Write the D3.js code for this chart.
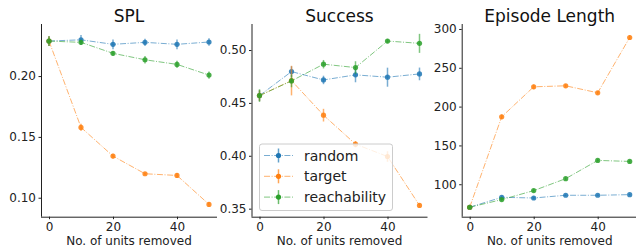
<!DOCTYPE html>
<html><head><meta charset="utf-8">
<script src="https://cdn.jsdelivr.net/npm/d3@7"></script>
<style>body{margin:0;background:#fff}svg{display:block;font-family:"DejaVu Sans",sans-serif}</style>
</head><body><svg id="c" width="636" height="247"></svg>
<script>
const unitsRemoved = [0, 10, 20, 30, 40, 50];
const seriesNames = ["random", "target", "reachability"];
const seriesColors = ["#1f77b4", "#ff7f0e", "#2ca02c"];
const panelTitles = ["SPL", "Success", "Episode Length"];

const splRandom = [0.2288, 0.2298, 0.2261, 0.2277, 0.2261, 0.2280];
const splTarget = [0.2288, 0.1578, 0.1342, 0.1197, 0.1183, 0.0945];
const splReach  = [0.2288, 0.2277, 0.2187, 0.2134, 0.2096, 0.2008];
const splRandomErr = [0.004, 0.004, 0.004, 0.003, 0.004, 0.003];
const splTargetErr = [0.004, 0.003, 0.002, 0.001, 0.002, 0.002];
const splReachErr  = [0.004, 0.002, 0.002, 0.003, 0.003, 0.003];

const succRandom = [0.4569, 0.4796, 0.4717, 0.4765, 0.4743, 0.4774];
const succTarget = [0.4569, 0.4711, 0.4384, 0.4110, 0.3993, 0.3531];
const succReach  = [0.4569, 0.4708, 0.4866, 0.4834, 0.5085, 0.5063];
const succRandomErr = [0.005, 0.005, 0.004, 0.007, 0.009, 0.006];
const succTargetErr = [0.005, 0.014, 0.006, 0.003, 0.005, 0.002];
const succReachErr  = [0.006, 0.006, 0.004, 0.006, 0.002, 0.009];

const lenRandom = [70.4, 83.2, 82.3, 85.8, 85.8, 86.6];
const lenTarget = [70.4, 186.9, 225.5, 226.8, 217.8, 289.0];
const lenReach  = [70.4, 80.2, 91.8, 107.2, 130.7, 129.4];
const lenRandomErr = [2, 2, 2, 1, 1, 1];
const lenTargetErr = [2, 3, 3, 2, 2, 3];
const lenReachErr  = [2, 2, 2, 2, 2, 2];

const splTicks = [0.10, 0.15, 0.20];
const succTicks = [0.35, 0.40, 0.45, 0.50];
const lenTicks = [100, 150, 200, 250, 300];
const xTicks = [0, 20, 40];

const panels = [
  {title: panelTitles[0], series: [splRandom, splTarget, splReach], errs: [splRandomErr, splTargetErr, splReachErr],
   domain: [0.0844, 0.2428], ticks: splTicks, fmt: d3.format(".2f"), left: 41},
  {title: panelTitles[1], series: [succRandom, succTarget, succReach], errs: [succRandomErr, succTargetErr, succReachErr],
   domain: [0.3424, 0.5246], ticks: succTicks, fmt: d3.format(".2f"), left: 251.5, legend: true},
  {title: panelTitles[2], series: [lenRandom, lenTarget, lenReach], errs: [lenRandomErr, lenTargetErr, lenReachErr],
   domain: [58.2, 306.4], ticks: lenTicks, fmt: d3.format("d"), left: 461.7}
];

const svg = d3.select("#c");
const plotTop = 24, plotBottom = 216.7, W = 176;

panels.forEach(p => {
  const x = d3.scaleLinear().domain([-2.5, 52.5]).range([p.left, p.left + W]);
  const y = d3.scaleLinear().domain(p.domain).range([plotBottom, plotTop]);
  const g = svg.append("g");

  p.series.forEach((vals, si) => {
    const col = seriesColors[si];
    const errs = p.errs[si];
    const sg = g.append("g");
    sg.append("path")
      .datum(unitsRemoved.map((u, i) => [u, vals[i]]))
      .attr("d", d3.line().x(d => x(d[0])).y(d => y(d[1])))
      .attr("fill", "none").attr("stroke", col).attr("stroke-width", 1)
      .attr("stroke-opacity", 0.6).attr("stroke-dasharray", "6,1.6,1,1.6");
    sg.selectAll("line.err").data(unitsRemoved).join("line")
      .attr("x1", d => x(d)).attr("x2", d => x(d))
      .attr("y1", (d, i) => y(vals[i] - errs[i])).attr("y2", (d, i) => y(vals[i] + errs[i]))
      .attr("stroke", col).attr("stroke-width", 1.5).attr("stroke-opacity", 0.6);
    sg.selectAll("circle").data(unitsRemoved).join("circle")
      .attr("cx", d => x(d)).attr("cy", (d, i) => y(vals[i])).attr("r", 2.6)
      .attr("fill", col).attr("fill-opacity", 0.85);
  });

  const xa = g.append("g").attr("transform", `translate(0,${plotBottom})`)
    .call(d3.axisBottom(x).tickValues(xTicks).tickSize(2.5).tickPadding(3).tickSizeOuter(0));
  xa.select(".domain").attr("d", `M${p.left},0.5H${p.left + W}`);
  const ya = g.append("g").attr("transform", `translate(${p.left},0)`)
    .call(d3.axisLeft(y).tickValues(p.ticks).tickFormat(p.fmt).tickSize(2.5).tickPadding(2.5).tickSizeOuter(0));
  ya.select(".domain").attr("d", `M0.5,${plotTop}V${plotBottom}`);
  [xa, ya].forEach(a => {
    a.selectAll("text").attr("font-family", "DejaVu Sans").attr("font-size", 12).attr("fill", "#222");
    a.selectAll("line").attr("stroke", "#222");
    a.select(".domain").attr("stroke", "#222");
  });

  g.append("text").attr("x", p.left + W / 2).attr("y", 21.5).attr("text-anchor", "middle")
    .attr("font-size", 17).attr("fill", "#111").text(p.title);
  g.append("text").attr("x", p.left + W / 2).attr("y", 244.5).attr("text-anchor", "middle")
    .attr("font-size", 12).attr("fill", "#222").text("No. of units removed");

  if (p.legend) {
    const lg = g.append("g");
    lg.append("rect").attr("x", 259.5).attr("y", 144).attr("width", 133).attr("height", 66.5)
      .attr("rx", 2.5).attr("fill", "#fff").attr("fill-opacity", 0.8).attr("stroke", "#ccc").attr("stroke-width", 1);
    seriesNames.forEach((nm, si) => {
      const cy = 155.5 + si * 20.8;
      const col = seriesColors[si];
      lg.append("line").attr("x1", 264).attr("x2", 293).attr("y1", cy).attr("y2", cy)
        .attr("stroke", col).attr("stroke-opacity", 0.6).attr("stroke-dasharray", "6,1.6,1,1.6");
      lg.append("line").attr("x1", 278.5).attr("x2", 278.5).attr("y1", cy - 7).attr("y2", cy + 7)
        .attr("stroke", col).attr("stroke-width", 1.5).attr("stroke-opacity", 0.7);
      lg.append("circle").attr("cx", 278.5).attr("cy", cy).attr("r", 2.6).attr("fill", col);
      lg.append("text").attr("x", 304).attr("y", cy + 5).attr("font-size", 14).attr("fill", "#222").text(nm);
    });
  }
});
</script></body></html>
